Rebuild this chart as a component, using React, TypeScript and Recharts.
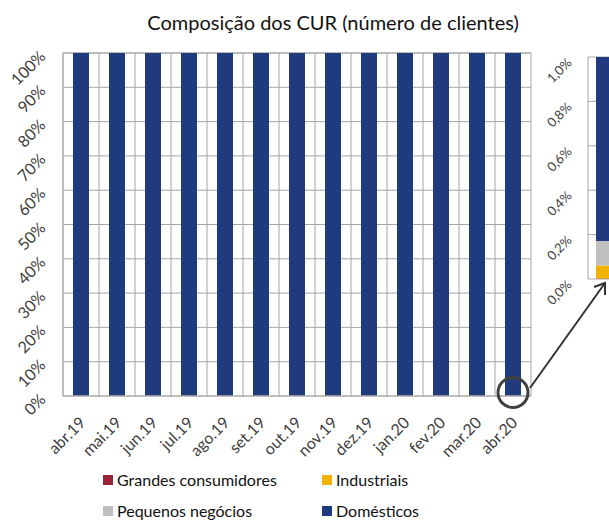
import { Bar, BarChart, CartesianGrid, ReferenceDot, XAxis, YAxis } from "recharts";

const MONTHS = [
  "abr.19", "mai.19", "jun.19", "jul.19", "ago.19", "set.19", "out.19",
  "nov.19", "dez.19", "jan.20", "fev.20", "mar.20", "abr.20",
];
// share of clients, in %
const GRANDES = [0.002, 0.002, 0.002, 0.002, 0.002, 0.002, 0.002, 0.002, 0.002, 0.002, 0.002, 0.002, 0.002];
const INDUSTRIAIS = [0.06, 0.06, 0.06, 0.06, 0.06, 0.06, 0.06, 0.06, 0.06, 0.06, 0.06, 0.06, 0.059];
const PEQUENOS = [0.11, 0.11, 0.11, 0.11, 0.11, 0.11, 0.11, 0.11, 0.11, 0.11, 0.11, 0.11, 0.11];
const DOMESTICOS = [99.83, 99.83, 99.83, 99.83, 99.83, 99.83, 99.83, 99.83, 99.83, 99.83, 99.83, 99.83, 99.829];

const MAIN_TICKS = [0, 10, 20, 30, 40, 50, 60, 70, 80, 90, 100];
const INSET_TICKS = [0, 0.2, 0.4, 0.6, 0.8, 1.0];

const SERIES = [
  { key: "grandes", name: "Grandes consumidores", color: "#9b2335" },
  { key: "industriais", name: "Industriais", color: "#efb300" },
  { key: "pequenos", name: "Pequenos negócios", color: "#bfbfbf" },
  { key: "domesticos", name: "Domésticos", color: "#1f3a7d" },
];

const rows = MONTHS.map((m, i) => ({
  month: m,
  grandes: GRANDES[i],
  industriais: INDUSTRIAIS[i],
  pequenos: PEQUENOS[i],
  domesticos: DOMESTICOS[i],
}));

const FONT = "Lato, 'Open Sans', sans-serif";
const GRID = "#a6a6a6";
const INK = "#404040";

function MainYTick({ x, y, payload }: any) {
  return (
    <text x={x} y={y} transform={`rotate(-45 ${x} ${y})`} textAnchor="end" dominantBaseline="central"
      fontSize={16} fill={INK} fontFamily={FONT}>
      {payload.value}%
    </text>
  );
}

function MainXTick({ x, y, payload }: any) {
  const ax = x + 1;
  return (
    <text x={ax} y={y} transform={`rotate(-45 ${ax} ${y})`} textAnchor="end" dominantBaseline="central"
      fontSize={16} fill={INK} fontFamily={FONT}>
      {payload.value}
    </text>
  );
}

function InsetYTick({ x, y, payload }: any) {
  const yy = y + 3;
  return (
    <text x={x} y={yy} transform={`rotate(-45 ${x} ${yy})`} textAnchor="end" dominantBaseline="central"
      fontSize={13} fill={INK} fontFamily={FONT}>
      {payload.value.toFixed(1).replace(".", ",")}%
    </text>
  );
}

const legendItem = (s: (typeof SERIES)[number], left: number, top: number) => (
  <div key={s.key} style={{ position: "absolute", left, top, display: "flex", alignItems: "center", gap: 4 }}>
    <span style={{ width: 10, height: 10, background: s.color, display: "inline-block" }} />
    <span style={{ fontSize: 16, color: "#111", fontFamily: FONT, lineHeight: "20px" }}>{s.name}</span>
  </div>
);

export default function App() {
  return (
    <div style={{ position: "absolute", left: 0, top: 0, width: 609, height: 520, overflow: "hidden", background: "#fff" }}>
      <div style={{ position: "absolute", left: 0, top: 9, width: 666, textAlign: "center", fontFamily: FONT,
        fontSize: 20, lineHeight: "26px", color: "#111" }}>
        Composição dos CUR (número de clientes)
      </div>

      <div style={{ position: "absolute", left: 0, top: 0 }}>
        <BarChart width={609} height={520} data={rows} margin={{ top: 53, right: 78, bottom: 0, left: 0 }}>
          <CartesianGrid
            stroke={GRID}
            verticalCoordinatesGenerator={({ offset }: any) =>
              MONTHS.map((_, i) => offset.left + (i * offset.width) / MONTHS.length).concat(offset.left + offset.width)
            }
          />
          <XAxis dataKey="month" height={124} tickLine={false} tickSize={0} tickMargin={23}
            axisLine={{ stroke: GRID }} tick={<MainXTick />} interval={0} />
          <YAxis width={63} domain={[0, 100]} ticks={MAIN_TICKS} tickLine={false} tickSize={0} tickMargin={21}
            axisLine={{ stroke: GRID }} tick={<MainYTick />} />
          {SERIES.map((s) => (
            <Bar key={s.key} dataKey={s.key} name={s.name} stackId="a" fill={s.color} barSize={16}
              isAnimationActive={false} />
          ))}
          <ReferenceDot x="abr.20" y={1} r={15} fill="none" stroke="#404040" strokeWidth={3} ifOverflow="visible" />
        </BarChart>
      </div>

      <div style={{ position: "absolute", left: 520, top: 0 }}>
        <BarChart width={100} height={320} data={rows.slice(-1)} margin={{ top: 57, right: 0, bottom: 41, left: 0 }}>
          <CartesianGrid stroke={GRID} vertical={false} />
          <XAxis dataKey="month" hide />
          <YAxis width={68} domain={[0, 1]} ticks={INSET_TICKS} allowDataOverflow tickLine={false} tickSize={0}
            tickMargin={19} axisLine={{ stroke: GRID }} tick={<InsetYTick />} />
          {SERIES.map((s) => (
            <Bar key={s.key} dataKey={s.key} stackId="a" fill={s.color} barSize={16} isAnimationActive={false} />
          ))}
        </BarChart>
      </div>

      <svg width={609} height={520} style={{ position: "absolute", left: 0, top: 0, pointerEvents: "none" }}>
        <line x1={530} y1={388} x2={605} y2={283} stroke="#333" strokeWidth={2} />
        <polyline points="594,287 605,283 605,295" fill="none" stroke="#333" strokeWidth={2} />
      </svg>

      {legendItem(SERIES[0], 103, 470)}
      {legendItem(SERIES[1], 322, 470)}
      {legendItem(SERIES[2], 103, 501)}
      {legendItem(SERIES[3], 322, 501)}
    </div>
  );
}
